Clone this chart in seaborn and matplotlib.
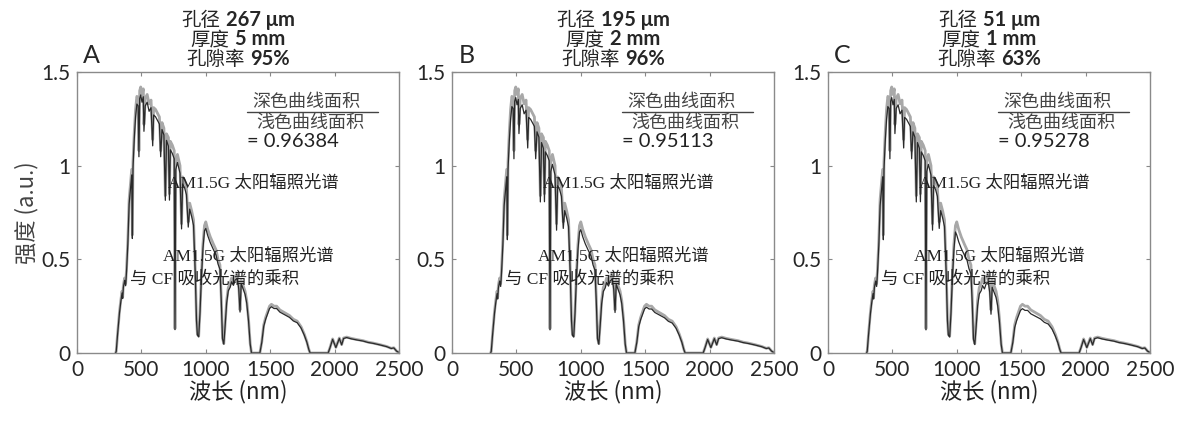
import numpy as np
import pandas as pd
import matplotlib
matplotlib.use("Agg")
import matplotlib.pyplot as plt
import seaborn as sns
from matplotlib.offsetbox import TextArea, HPacker, VPacker, AnchoredOffsetbox

# ---------------- data ----------------
wavelength = [300, 305, 315, 330, 340, 350, 355, 360, 370, 378, 385, 395, 405, 415, 425, 430,
              435, 445, 455, 465, 475, 481, 487, 495, 505, 515, 520, 530, 545, 560, 575, 588,
              595, 610, 625, 640, 650, 660, 675, 686, 695, 710, 718, 725, 740, 755, 761, 767,
              780, 800, 812, 820, 835, 850, 864, 875, 890, 905, 918, 928, 935, 945, 955, 965,
              978, 990, 1000, 1015, 1035, 1060, 1080, 1095, 1110, 1120, 1130, 1140, 1150, 1162,
              1175, 1190, 1200, 1215, 1228, 1245, 1256, 1266, 1275, 1290, 1305, 1318, 1332, 1345,
              1355, 1420, 1435, 1450, 1465, 1480, 1495, 1510, 1530, 1550, 1575, 1600, 1625, 1650,
              1680, 1710, 1740, 1765, 1785, 1800, 1810, 1950, 1965, 1985, 2010, 2037, 2055, 2070,
              2094, 2130, 2172, 2220, 2260, 2300, 2350, 2405, 2440, 2460, 2482, 2495]
am15g = [0.00, 0.01, 0.10, 0.22, 0.28, 0.33, 0.30, 0.36, 0.40, 0.37, 0.45, 0.60, 0.82, 0.90, 0.98, 0.63,
         1.02, 1.18, 1.30, 1.37, 1.36, 1.08, 1.40, 1.42, 1.38, 1.41, 1.22, 1.36, 1.38, 1.33, 1.35, 1.14,
         1.31, 1.30, 1.28, 1.26, 1.08, 1.23, 1.20, 0.84, 1.17, 1.15, 0.85, 1.13, 1.11, 1.08, 0.13, 1.02,
         1.06, 1.00, 0.69, 0.94, 0.92, 0.88, 0.70, 0.80, 0.76, 0.71, 0.45, 0.18, 0.10, 0.09, 0.22, 0.40,
         0.58, 0.68, 0.70, 0.66, 0.62, 0.58, 0.55, 0.50, 0.47, 0.30, 0.08, 0.05, 0.15, 0.28,
         0.35, 0.37, 0.40, 0.38, 0.41, 0.42, 0.36, 0.23, 0.39, 0.36, 0.33, 0.28, 0.18, 0.05,
         0.00, 0.00, 0.06, 0.15, 0.19, 0.22, 0.25, 0.26, 0.25, 0.25, 0.23, 0.22, 0.21, 0.20,
         0.18, 0.17, 0.14, 0.10, 0.06, 0.02, 0.00, 0.00, 0.03, 0.075, 0.03, 0.08, 0.045, 0.08,
         0.085, 0.078, 0.072, 0.066, 0.058, 0.053, 0.045, 0.035, 0.025, 0.028, 0.01, 0.005]

# CF absorptance per spectral band (band lower edges in nm)
band_edges = [300, 700, 1000, 1400, 1900]
absorb_A = [0.97, 0.96, 0.95, 0.95, 0.97]
absorb_B = [0.96, 0.95, 0.94, 0.94, 0.96]
absorb_C = [0.96, 0.95, 0.90, 0.91, 0.96]

panel_letters = ["A", "B", "C"]
pore_size = ["267 μm", "195 μm", "51 μm"]
thickness = ["5 mm", "2 mm", "1 mm"]
porosity = ["95%", "96%", "63%"]
area_ratio = ["0.96384", "0.95113", "0.95278"]
absorbs = [absorb_A, absorb_B, absorb_C]

x_ticks = [0, 500, 1000, 1500, 2000, 2500]
y_ticks = [0, 0.5, 1, 1.5]
y_tick_labels = ["0", "0.5", "1", "1.5"]

# ---------------- style ----------------
sns.set_style("white")
plt.rcParams["font.family"] = ["Lato", "Noto Sans CJK SC", "DejaVu Sans"]
CJK = ["Noto Sans CJK SC", "DejaVu Sans"]
SERIF = ["Liberation Serif", "Noto Sans CJK SC"]
BOLDNUM = ["Lato", "DejaVu Sans"]

fig = plt.figure(figsize=(11.86, 4.21), dpi=100)
lefts = [0.0649, 0.3811, 0.6981]
W, B, H = 0.2715, 0.1615, 0.6675

wl = np.array(wavelength)
irr = np.array(am15g)
band_idx = np.searchsorted(band_edges, wl, side="right") - 1

for i in range(3):
    ax = fig.add_axes([lefts[i], B, W, H])
    ab = np.array(absorbs[i])[band_idx]
    df = pd.DataFrame({"wl": wl, "light": irr, "dark": irr * ab})
    sns.lineplot(data=df, x="wl", y="light", ax=ax, color="#a8a8a8", lw=2.0,
                 estimator=None, sort=False)
    sns.lineplot(data=df, x="wl", y="dark", ax=ax, color="#2a2a2a", lw=0.9,
                 estimator=None, sort=False)
    ax.set_xlim(0, 2500)
    ax.set_ylim(0, 1.5)
    ax.set_xticks(x_ticks)
    ax.set_xticklabels([str(t) for t in x_ticks])
    ax.set_yticks(y_ticks)
    ax.set_yticklabels(y_tick_labels)
    ax.tick_params(direction="in", length=3, width=0.8, color="#888888",
                   top=True, right=True, bottom=True, left=True,
                   labelsize=15, pad=5)
    for s in ax.spines.values():
        s.set_color("#8a8a8a")
        s.set_linewidth(1.0)
    ax.set_xlabel("波长 (nm)", fontsize=16, family=CJK, color="#222222", labelpad=0)
    if i == 0:
        ax.set_ylabel("强度 (a.u.)", fontsize=16, family=CJK, color="#444444", labelpad=2)
    else:
        ax.set_ylabel("")

    # panel letter
    ax.text(0.045, 1.06, panel_letters[i], transform=ax.transAxes, fontsize=18,
            family=BOLDNUM, ha="center", va="center")

    # three-line title: regular CJK + bold numbers
    rows = []
    for lab, val in zip(["孔径", "厚度", "孔隙率"], [pore_size[i], thickness[i], porosity[i]]):
        rows.append(HPacker(children=[
            TextArea(lab, textprops=dict(fontsize=14, family=CJK)),
            TextArea(val, textprops=dict(fontsize=14.5, family=BOLDNUM, fontweight="bold")),
        ], align="baseline", pad=0, sep=4))
    vp = VPacker(children=rows, align="center", pad=0, sep=-1)
    box = AnchoredOffsetbox(loc="lower center", child=vp, pad=0, frameon=False,
                            bbox_to_anchor=(0.5, 1.0), bbox_transform=ax.transAxes,
                            borderpad=0.15)
    ax.add_artist(box)

    # fraction annotation
    ax.text(1783, 1.342, "深色曲线面积", fontsize=13, family=CJK, color="#444444",
            ha="center", va="center")
    ax.plot([1318, 2337], [1.287, 1.287], color="#444444", lw=1.0)
    ax.text(1809, 1.228, "浅色曲线面积", fontsize=13, family=CJK, color="#444444",
            ha="center", va="center")
    ax.text(1318, 1.128, "= " + area_ratio[i], fontsize=14.5, family=BOLDNUM,
            color="#222222", ha="left", va="center")

    ax.text(707, 0.906, "AM1.5G 太阳辐照光谱", fontsize=12.5, family=SERIF,
            color="#222222", ha="left", va="center")
    ax.text(668, 0.514, "AM1.5G 太阳辐照光谱", fontsize=12.5, family=SERIF,
            color="#222222", ha="left", va="center")
    ax.text(412, 0.393, "与 CF 吸收光谱的乘积", fontsize=12.5, family=SERIF,
            color="#222222", ha="left", va="center")

fig.savefig("out.png", dpi=100)
